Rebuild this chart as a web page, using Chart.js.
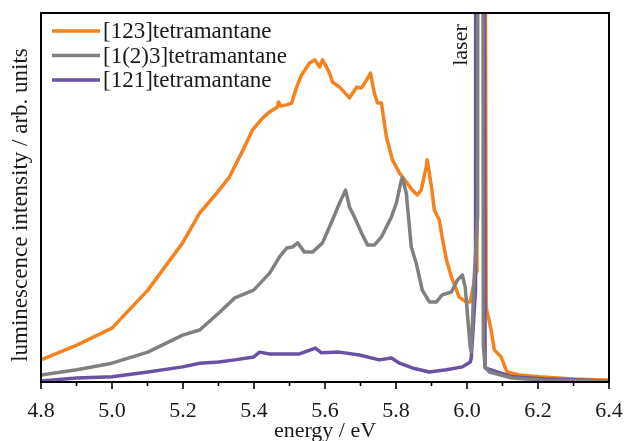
<!DOCTYPE html>
<html>
<head>
<meta charset="utf-8">
<title>tetramantane luminescence</title>
<script src="https://cdn.jsdelivr.net/npm/chart.js@4.4.1/dist/chart.umd.min.js"></script>
<style>
  html, body { margin: 0; padding: 0; background: #fff; }
  #chart { display: block; }
</style>
</head>
<body>
<canvas id="chart" width="626" height="441"></canvas>
<script>
// values: energy in eV, intensity in arb. units (frame height = 100)
const SERIES_NAMES = ['[123]tetramantane', '[1(2)3]tetramantane', '[121]tetramantane'];

const ENERGY_123 = [4.800, 4.901, 5.000, 5.101, 5.199, 5.247, 5.295, 5.331, 5.365, 5.396, 5.424, 5.444, 5.466, 5.469, 5.475, 5.492,
  5.506, 5.520, 5.534, 5.556, 5.571, 5.585, 5.593, 5.604, 5.613, 5.621, 5.641, 5.669, 5.689, 5.703, 5.717, 5.728, 5.739, 5.748,
  5.759, 5.773, 5.790, 5.810, 5.829, 5.846, 5.860, 5.871, 5.885, 5.888, 5.900, 5.908, 5.922, 5.930, 5.942, 5.956, 5.978, 5.998,
  6.009, 6.026, 6.028, 6.045, 6.054, 6.068, 6.077, 6.096, 6.113, 6.147, 6.203, 6.300, 6.400];
const LUM_123 = [6.0, 10.0, 14.6, 24.9, 37.7, 45.8, 51.2, 55.6, 62.1, 68.3, 71.5, 73.2, 74.5, 75.9, 74.8, 75.1,
  75.6, 79.9, 83.2, 86.4, 87.3, 85.4, 87.3, 85.4, 83.7, 81.3, 79.9, 77.0, 79.9, 79.7, 81.8, 83.7, 78.3, 75.6,
  75.6, 66.4, 60.2, 56.6, 54.2, 52.0, 50.7, 52.0, 58.3, 60.2, 52.8, 46.6, 43.9, 39.3, 33.1, 28.5, 23.0, 21.7,
  21.7, 30.0, 400, 400, 20.3, 14.1, 8.7, 6.8, 2.7, 1.9, 1.4, 0.8, 0.5];

const ENERGY_1_2_3 = [4.800, 4.901, 5.000, 5.101, 5.199, 5.247, 5.301, 5.346, 5.399, 5.444, 5.472, 5.492, 5.509, 5.523, 5.542,
  5.565, 5.593, 5.621, 5.641, 5.658, 5.669, 5.683, 5.703, 5.720, 5.739, 5.759, 5.787, 5.801, 5.815, 5.818, 5.829, 5.843, 5.857,
  5.874, 5.894, 5.914, 5.930, 5.956, 5.973, 5.987, 5.995, 6.001, 6.009, 6.012, 6.020, 6.030, 6.032, 6.042, 6.046, 6.051, 6.063,
  6.127, 6.223, 6.400];
const LUM_1_2_3 = [1.9, 3.3, 5.1, 8.1, 12.7, 14.1, 18.7, 22.8, 24.9, 29.5, 33.9, 36.3, 36.6, 37.7, 35.2,
  35.2, 37.7, 43.9, 48.5, 52.0, 47.4, 44.7, 40.4, 37.1, 37.1, 39.3, 44.7, 48.5, 54.7, 55.3, 51.2, 36.6, 32.2,
  24.9, 21.7, 21.7, 23.6, 24.4, 27.6, 29.0, 25.7, 18.7, 9.5, 8.1, 27.6, 45.0, 400, 400, 10.0, 4.1, 2.7,
  1.1, 0.5, 0.3];

const ENERGY_121 = [4.800, 4.901, 5.000, 5.101, 5.199, 5.247, 5.301, 5.346, 5.399, 5.416, 5.444, 5.528, 5.573, 5.590, 5.641,
  5.697, 5.753, 5.787, 5.810, 5.846, 5.894, 5.942, 5.987, 6.009, 6.012, 6.024, 6.026, 6.043, 6.051, 6.127, 6.223, 6.400];
const LUM_121 = [0.3, 1.1, 1.4, 2.7, 4.1, 5.1, 5.4, 6.0, 6.8, 8.1, 7.6, 7.6, 9.2, 7.9, 8.1,
  7.3, 6.0, 6.5, 5.1, 3.8, 2.7, 3.3, 4.1, 5.4, 6.5, 25.0, 400, 400, 3.8, 1.4, 0.8, 0.3];

const X_MIN = 4.8;
const X_MAX = 6.4;
const X_STEP = 0.1;   // minor ticks, every second one labelled

const SERIF = '"Liberation Serif", "Times New Roman", serif';
const TEXT_COLOR = '#1a1a1a';

function toPoints(xs, ys) {
  return xs.map((x, i) => ({ x: x, y: ys[i] }));
}

// legend drawn inside the frame, top-left, like the original
const insideLegend = {
  id: 'insideLegend',
  afterDraw(chart) {
    const ctx = chart.ctx;
    ctx.save();
    ctx.font = '23px ' + SERIF;
    ctx.textBaseline = 'middle';
    ctx.textAlign = 'left';
    chart.data.datasets.forEach((ds, i) => {
      const y = 31 + i * 24.5;
      ctx.strokeStyle = ds.borderColor;
      ctx.lineWidth = 3.5;
      ctx.beginPath();
      ctx.moveTo(52, y);
      ctx.lineTo(100, y);
      ctx.stroke();
      ctx.fillStyle = TEXT_COLOR;
      ctx.fillText(ds.label, 103, y + 1);
    });
    ctx.restore();
  },
};

// frame, outward x ticks, rotated y title and the "laser" note
const frame = {
  id: 'frame',
  afterDraw(chart) {
    const { ctx, chartArea: a } = chart;
    const xs = chart.scales.x;
    ctx.save();
    ctx.strokeStyle = '#000';
    ctx.lineWidth = 2;
    ctx.strokeRect(a.left, a.top, a.right - a.left, a.bottom - a.top);

    ctx.lineWidth = 1.6;
    xs.ticks.forEach((t, i) => {
      const px = xs.getPixelForValue(t.value);
      const len = i % 2 === 0 ? 7 : 4;
      ctx.beginPath();
      ctx.moveTo(px, a.bottom);
      ctx.lineTo(px, a.bottom + len);
      ctx.stroke();
    });

    ctx.fillStyle = TEXT_COLOR;
    ctx.textAlign = 'center';
    ctx.textBaseline = 'middle';
    ctx.font = '23px ' + SERIF;
    ctx.save();
    ctx.translate(21, 205);
    ctx.rotate(-Math.PI / 2);
    ctx.fillText('luminescence intensity / arb. units', 0, 0);
    ctx.restore();

    ctx.font = '22px ' + SERIF;
    ctx.save();
    ctx.translate(461, 45);
    ctx.rotate(-Math.PI / 2);
    ctx.fillText('laser', 0, 0);
    ctx.restore();
    ctx.restore();
  },
};

const ctx = document.getElementById('chart');

new Chart(ctx, {
  type: 'line',
  data: {
    datasets: [
      {
        label: SERIES_NAMES[0],
        data: toPoints(ENERGY_123, LUM_123),
        borderColor: '#f5821f',
        order: 2,
      },
      {
        label: SERIES_NAMES[1],
        data: toPoints(ENERGY_1_2_3, LUM_1_2_3),
        borderColor: '#808080',
        order: 0,
      },
      {
        label: SERIES_NAMES[2],
        data: toPoints(ENERGY_121, LUM_121),
        borderColor: '#6a51a3',
        order: 1,
      },
    ],
  },
  options: {
    responsive: false,
    animation: false,
    devicePixelRatio: 1,
    layout: {
      padding: { top: 13, right: 17, left: 0, bottom: 0 },
    },
    elements: {
      line: { borderWidth: 3.5, tension: 0, borderJoinStyle: 'round', borderCapStyle: 'round' },
      point: { radius: 0, hoverRadius: 0 },
    },
    scales: {
      x: {
        type: 'linear',
        min: X_MIN,
        max: X_MAX,
        afterFit: (scale) => {
          scale.height = 59;
          scale.paddingLeft = 0;
          scale.paddingRight = 0;
        },
        ticks: {
          stepSize: X_STEP,
          autoSkip: false,
          maxRotation: 0,
          padding: 16,
          color: TEXT_COLOR,
          font: { family: SERIF, size: 22 },
          callback: (value, index) => (index % 2 === 0 ? value.toFixed(1) : ''),
        },
        grid: { display: false, drawTicks: false },
        border: { display: false },
        title: {
          display: true,
          text: 'energy / eV',
          color: TEXT_COLOR,
          font: { family: SERIF, size: 22, lineHeight: 1 },
          padding: { top: 0, bottom: -1 },
        },
      },
      y: {
        min: 0,
        max: 100,
        afterFit: (scale) => { scale.width = 41; },
        ticks: { display: false },
        grid: { display: false, drawTicks: false },
        border: { display: false },
      },
    },
    plugins: {
      legend: { display: false },
      tooltip: { enabled: false },
    },
  },
  plugins: [insideLegend, frame],
});
</script>
</body>
</html>
